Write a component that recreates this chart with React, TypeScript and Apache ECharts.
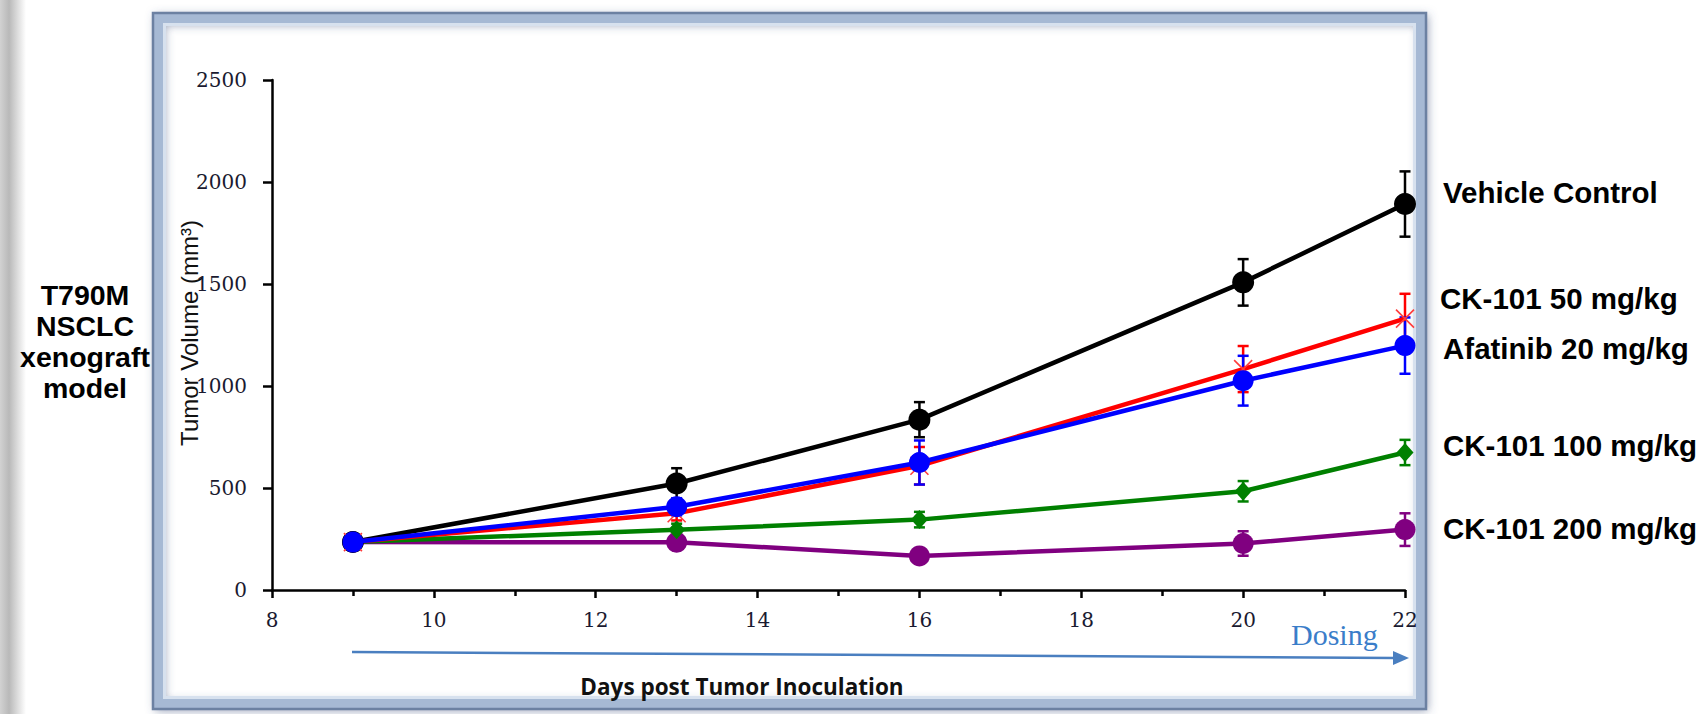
import React, { useEffect, useRef } from "react";
import * as echarts from "echarts";

const days = [9, 13, 16, 20, 22];
const vehicle = [235, 522, 835, 1508, 1892];
const vehicleErr = [0, 75, 86, 114, 160];
const ck50 = [235, 376, 609, 1083, 1330];
const ck50Err = [0, 35, 92, 113, 122];
const afatinib = [235, 408, 625, 1026, 1198];
const afatinibErr = [0, 42, 108, 122, 138];
const ck100 = [235, 295, 345, 484, 674];
const ck100Err = [0, 30, 38, 50, 62];
const ck200 = [235, 234, 167, 228, 296];
const ck200Err = [0, 28, 10, 60, 80];

const xTicks = { min: 8, max: 22, interval: 2 };
const yTicks = { min: 0, max: 2500, interval: 500 };

const seriesNames = [
  "Vehicle Control",
  "CK-101 50 mg/kg",
  "Afatinib 20 mg/kg",
  "CK-101 100 mg/kg",
  "CK-101 200 mg/kg",
];
const leftLines = ["T790M", "NSCLC", "xenograft", "model"];
const xTitle = "Days post Tumor Inoculation";
const yTitle = "Tumor Volume (mm³)";
const dosingLabel = "Dosing";

function errSeries(name: string, vals: number[], errs: number[], color: string) {
  return {
    type: "custom",
    name: name + " err",
    z: 2,
    silent: true,
    data: days.map((d, i) => [d, vals[i], errs[i]]),
    encode: { x: 0, y: 1 },
    renderItem: (params: any, api: any) => {
      const x = api.value(0);
      const y = api.value(1);
      const e = api.value(2);
      if (!e) return { type: "group", children: [] };
      const top = api.coord([x, y + e]);
      const bot = api.coord([x, y - e]);
      const hw = 5.5;
      const st = { stroke: color, lineWidth: 2.5 };
      return {
        type: "group",
        children: [
          { type: "line", shape: { x1: top[0], y1: top[1], x2: bot[0], y2: bot[1] }, style: st },
          { type: "line", shape: { x1: top[0] - hw, y1: top[1], x2: top[0] + hw, y2: top[1] }, style: st },
          { type: "line", shape: { x1: bot[0] - hw, y1: bot[1], x2: bot[0] + hw, y2: bot[1] }, style: st },
        ],
      };
    },
  };
}

function lineSeries(name: string, vals: number[], color: string, symbol: string, size: any, z: number) {
  return {
    type: "line",
    name,
    z,
    data: days.map((d, i) => [d, vals[i]]),
    symbol,
    symbolSize: size,
    showAllSymbol: true,
    lineStyle: { color, width: 4.5 },
    itemStyle: { color },
    emphasis: { disabled: true },
  };
}

export default function App() {
  const ref = useRef<HTMLDivElement>(null);
  useEffect(() => {
    if (!ref.current) return;
    const chart = echarts.init(ref.current, null, { renderer: "svg" });
    const labelFont = "bold 29.5px 'Liberation Sans', Arial, sans-serif";
    const rightX = 1443;
    const rightYs = [192, 298, 348, 445, 528];
    const leftYs = [295, 326, 357, 388];
    const option: any = {
      animation: false,
      backgroundColor: "#ffffff",
      grid: { left: 272, right: 303, top: 80, bottom: 124, containLabel: false },
      xAxis: {
        type: "value",
        min: xTicks.min,
        max: xTicks.max,
        interval: xTicks.interval,
        z: 10,
        axisLine: { show: true, lineStyle: { color: "#000", width: 2.5 } },
        axisTick: { show: true, length: 8, lineStyle: { color: "#000", width: 2.5 } },
        minorTick: { show: true, splitNumber: 2, length: 6, lineStyle: { color: "#000", width: 2.5 } },
        splitLine: { show: false },
        minorSplitLine: { show: false },
        axisLabel: {
          margin: 20,
          fontFamily: "'DejaVu Serif', serif",
          fontSize: 20,
          color: "#1a1a30",
          formatter: (v: number) => String(v),
        },
      },
      yAxis: {
        type: "value",
        min: yTicks.min,
        max: yTicks.max,
        interval: yTicks.interval,
        z: 10,
        axisLine: { show: true, lineStyle: { color: "#000", width: 2.5 } },
        axisTick: { show: true, length: 9, lineStyle: { color: "#000", width: 2.5 } },
        splitLine: { show: false },
        axisLabel: {
          margin: 25,
          fontFamily: "'DejaVu Serif', serif",
          fontSize: 20,
          color: "#1a1a30",
          formatter: (v: number) => String(v),
        },
      },
      series: [
        errSeries(seriesNames[4], ck200, ck200Err, "#800080"),
        errSeries(seriesNames[3], ck100, ck100Err, "#008000"),
        errSeries(seriesNames[0], vehicle, vehicleErr, "#000000"),
        errSeries(seriesNames[1], ck50, ck50Err, "#ff0000"),
        errSeries(seriesNames[2], afatinib, afatinibErr, "#0000ff"),
        lineSeries(seriesNames[4], ck200, "#800080", "circle", 21, 3),
        lineSeries(seriesNames[3], ck100, "#008000", "diamond", [17, 19], 3),
        lineSeries(seriesNames[0], vehicle, "#000000", "circle", 22, 3),
        {
          ...lineSeries(seriesNames[1], ck50, "#ff0000", "path://M0,0L10,10M10,0L0,10", 18, 3),
          itemStyle: { color: "rgba(0,0,0,0)", borderColor: "#ff3b3b", borderWidth: 1.6 },
        },
        lineSeries(seriesNames[2], afatinib, "#0000ff", "circle", 21, 4),
      ],
      graphic: [
        {
          type: "rect",
          silent: true,
          z: -10,
          shape: { x: 0, y: 0, width: 26, height: 714 },
          style: {
            fill: new echarts.graphic.LinearGradient(0, 0, 1, 0, [
              { offset: 0, color: "#d2d2d2" },
              { offset: 0.35, color: "#b9b9b9" },
              { offset: 1, color: "#ffffff" },
            ]),
          },
        },
        {
          type: "rect",
          silent: true,
          z: -5,
          shape: { x: 158, y: 18, width: 1263, height: 686 },
          style: {
            fill: "none",
            stroke: "#a6b9d4",
            lineWidth: 10,
            shadowBlur: 10,
            shadowColor: "rgba(70,90,130,0.55)",
            shadowOffsetX: 2,
            shadowOffsetY: 2,
          },
        },
        {
          type: "rect",
          silent: true,
          z: -5,
          shape: { x: 164.5, y: 24.5, width: 1250, height: 673 },
          style: { fill: "none", stroke: "#d7e1ee", lineWidth: 3 },
        },
        {
          type: "rect",
          silent: true,
          z: -5,
          shape: { x: 153, y: 13, width: 1273, height: 696 },
          style: { fill: "none", stroke: "#6c81a2", lineWidth: 2.5 },
        },
        {
          type: "text",
          silent: true,
          z: 6,
          x: 189,
          y: 333,
          rotation: Math.PI / 2,
          style: {
            text: yTitle,
            x: 0,
            y: 0,
            font: "24px 'Liberation Sans', Arial, sans-serif",
            fill: "#111",
            textAlign: "center",
            textVerticalAlign: "middle",
          },
        },
        ...leftLines.map((t, i) => ({
          type: "text",
          silent: true,
          z: 5,
          style: {
            text: t,
            x: 85,
            y: leftYs[i],
            font: "bold 28.5px 'Liberation Sans', Arial, sans-serif",
            fill: "#000",
            textAlign: "center",
            textVerticalAlign: "middle",
          },
        })),
        ...seriesNames.map((t, i) => ({
          type: "text",
          silent: true,
          z: 5,
          style: {
            text: t,
            x: i === 1 ? rightX - 3 : rightX,
            y: rightYs[i],
            font: labelFont,
            fill: "#000",
            textAlign: "left",
            textVerticalAlign: "middle",
          },
        })),
        {
          type: "text",
          silent: true,
          z: 5,
          style: {
            text: xTitle,
            x: 742,
            y: 686,
            font: "bold 22.5px 'Open Sans', 'Liberation Sans', sans-serif",
            fill: "#111",
            textAlign: "center",
            textVerticalAlign: "middle",
          },
        },
        {
          type: "line",
          silent: true,
          z: 5,
          shape: { x1: 352, y1: 652, x2: 1396, y2: 658 },
          style: { stroke: "#4a7fc0", lineWidth: 2.5 },
        },
        {
          type: "polygon",
          silent: true,
          z: 5,
          shape: { points: [[1409, 658], [1393, 651], [1393, 665]] },
          style: { fill: "#4a7fc0" },
        },
        {
          type: "text",
          silent: true,
          z: 5,
          style: {
            text: dosingLabel,
            x: 1291,
            y: 634,
            font: "30px 'Liberation Serif', 'Times New Roman', serif",
            fill: "#3a7dc9",
            textAlign: "left",
            textVerticalAlign: "middle",
          },
        },
      ],
    };
    chart.setOption(option);
    return () => chart.dispose();
  }, []);
  return (
    <div
      ref={ref}
      style={{ position: "fixed", left: 0, top: 0, width: 1708, height: 714, background: "#fff" }}
    />
  );
}
